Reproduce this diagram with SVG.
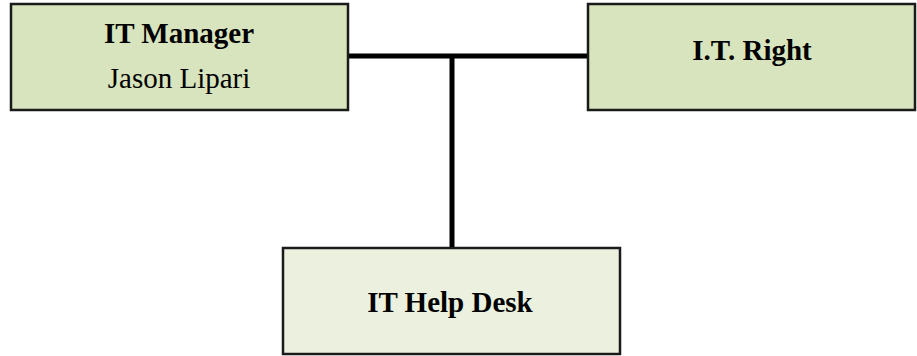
<svg xmlns="http://www.w3.org/2000/svg" width="917" height="356" viewBox="0 0 917 356">
<style>
.box{stroke:#1a1a1a;stroke-width:2.5}
.dark{fill:#d7e4bd}
.light{fill:#ebf1de}
.t{font-family:"Liberation Serif",serif;font-size:29px;fill:#000;text-anchor:middle}
.b{font-weight:bold}
.conn{stroke:#000;stroke-width:5;fill:none}
</style>
<rect width="917" height="356" fill="#fff"/>
<g id="connectors">
<line class="conn" x1="348" y1="56" x2="588" y2="56"/>
<line class="conn" x1="452" y1="56" x2="452" y2="248"/>
</g>
<g id="it-manager">
<rect class="box dark" x="11" y="4" width="337" height="106"/>
<text class="t b" x="179" y="43">IT Manager</text>
<text class="t" x="179" y="88">Jason Lipari</text>
</g>
<g id="it-right">
<rect class="box dark" x="588" y="4" width="327" height="106"/>
<text class="t b" x="752" y="60">I.T. Right</text>
</g>
<g id="it-help-desk">
<rect class="box light" x="283" y="248" width="337" height="106"/>
<text class="t b" x="450" y="312">IT Help Desk</text>
</g>
</svg>
